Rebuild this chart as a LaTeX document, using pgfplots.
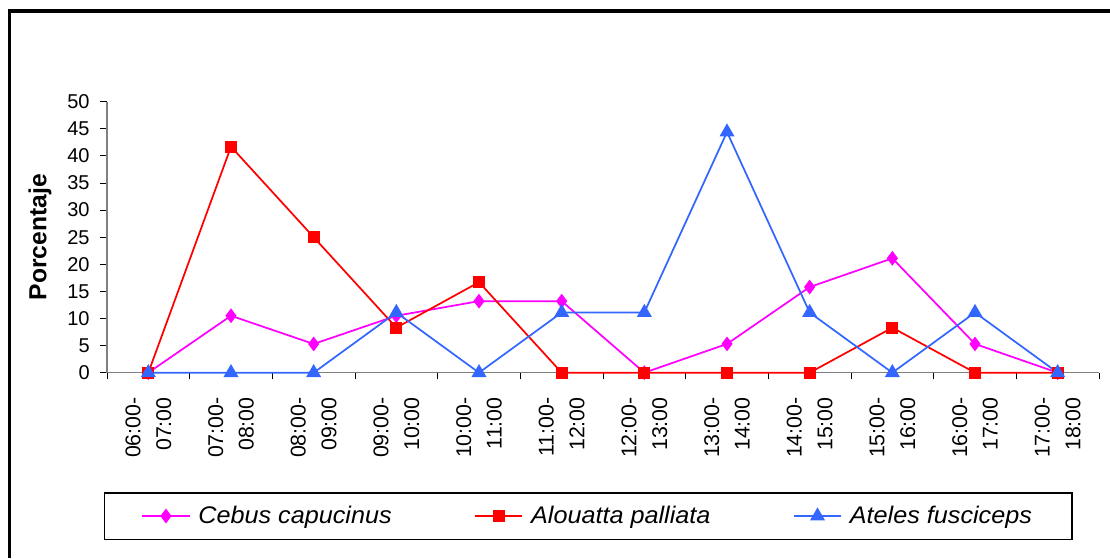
\documentclass[border=0pt]{standalone}
\usepackage{fontspec}
\setmainfont{Liberation Sans}
\newfontfamily\legfont[FakeStretch=1.05]{Liberation Sans}
\usepackage{pgfplots}
\pgfplotsset{compat=1.18}
\definecolor{cebus}{RGB}{255,0,255}
\definecolor{alou}{RGB}{255,0,0}
\definecolor{ateles}{RGB}{51,102,255}

\begin{document}
\begin{tikzpicture}[x=1pt,y=1pt]
\useasboundingbox (0,0) rectangle (832.5,-418.5);
% outer chart frame (cropped at right and bottom)
\draw[line width=2.6pt] (7.1,-418.5) -- (7.1,-8.25) -- (832.5,-8.25);
\begin{axis}[
  at={(80.25pt,-279.5pt)}, anchor=south west,
  scale only axis, width=744pt, height=203.25pt,
  xmin=-0.5, xmax=11.5, ymin=0, ymax=50,
  axis lines=left, axis line style={-,draw=gray,line width=1pt},
  tick align=outside, major tick length=5pt,
  tick style={black,line width=0.6pt},
  ytick={0,5,...,50},
  xtick={-0.5,0.5,...,11.5}, x tick label as interval,
  xticklabels={{06:00-\\07:00},{07:00-\\08:00},{08:00-\\09:00},{09:00-\\10:00},
    {10:00-\\11:00},{11:00-\\12:00},{12:00-\\13:00},{13:00-\\14:00},
    {14:00-\\15:00},{15:00-\\16:00},{16:00-\\17:00},{17:00-\\18:00}},
  xticklabel shift=10pt,
  xticklabel style={rotate=90,anchor=east,align=right,
    font=\fontsize{16}{23}\selectfont},
  yticklabel style={font=\fontsize{15}{18}\selectfont,xshift=-4.5pt},
  /pgf/number format/assume math mode=true,
  ylabel={\textbf{Porcentaje}},
  every axis y label/.style={at={(axis description cs:-0.0675,0.5)},rotate=90,anchor=center,
    font=\fontsize{18.5}{21}\selectfont},
  clip=false,
  legend columns=3,
  legend image code/.code={\draw[mark repeat=2,mark phase=2]
    plot coordinates {(0cm,0cm)(0.62cm,0cm)(1.24cm,0cm)};},
  legend style={at={(0.485,-0.529)},anchor=center,draw=black,line width=0.8pt,
    font=\legfont\fontsize{18}{21}\selectfont\itshape,inner xsep=28pt,inner ysep=8pt,
    /tikz/column 1/.style={column sep=4pt},
    /tikz/column 3/.style={column sep=4pt},
    /tikz/column 5/.style={column sep=4pt},
    /tikz/column 2/.style={column sep=60pt},
    /tikz/column 4/.style={column sep=60pt}},
  legend cell align=left,
]
\addplot[cebus,line width=1.3pt,mark=diamond*,mark size=4.5pt,mark options={solid}]
  coordinates {(0,0)(1,10.5)(2,5.3)(3,10.5)(4,13.2)(5,13.2)(6,0)(7,5.3)(8,15.8)(9,21.1)(10,5.3)(11,0)};
\addplot[alou,line width=1.3pt,mark=square*,mark size=3.8pt,mark options={solid}]
  coordinates {(0,0)(1,41.7)(2,25.0)(3,8.3)(4,16.7)(5,0)(6,0)(7,0)(8,0)(9,8.3)(10,0)(11,0)};
\addplot[ateles,line width=1.3pt,mark=triangle*,mark size=5.2pt,mark options={solid}]
  coordinates {(0,0)(1,0)(2,0)(3,11.1)(4,0)(5,11.1)(6,11.1)(7,44.4)(8,11.1)(9,0)(10,11.1)(11,0)};
\legend{Cebus capucinus, Alouatta palliata, Ateles fusciceps}
\end{axis}
\end{tikzpicture}
\end{document}
